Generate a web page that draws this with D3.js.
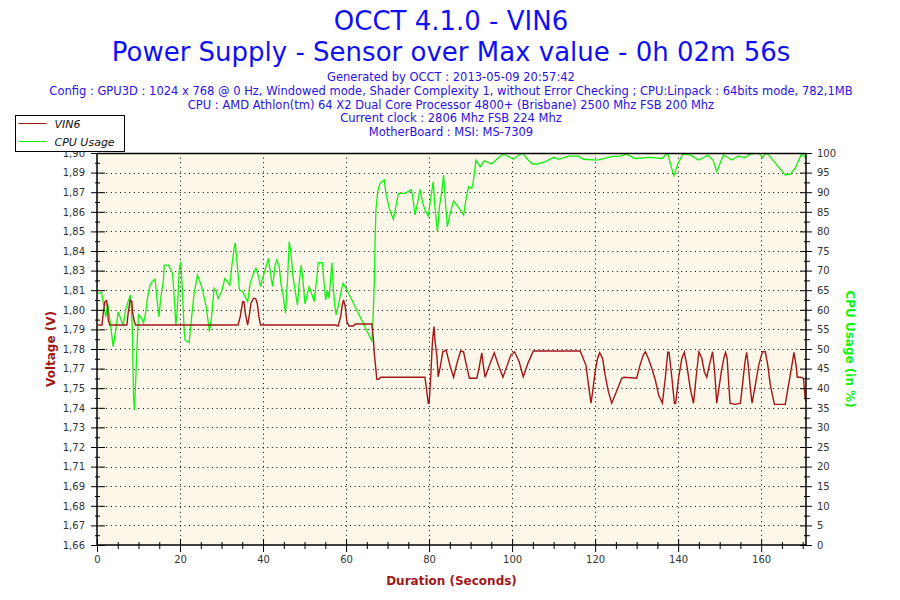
<!DOCTYPE html>
<html>
<head>
<meta charset="utf-8">
<script src="https://cdn.jsdelivr.net/npm/d3@7"></script>
<style>
  body { margin: 0; background: #fff; }
  svg { font-family: "DejaVu Sans", Verdana, sans-serif; }
</style>
</head>
<body>
<div id="chart"></div>
<script>
// titles
var titleLines = ["OCCT 4.1.0 - VIN6", "Power Supply - Sensor over Max value - 0h 02m 56s"];
var infoLines = [
  "Generated by OCCT : 2013-05-09 20:57:42",
  "Config : GPU3D : 1024 x 768 @ 0 Hz, Windowed mode, Shader Complexity 1, without Error Checking ; CPU:Linpack : 64bits mode, 782,1MB",
  "CPU : AMD Athlon(tm) 64 X2 Dual Core Processor 4800+ (Brisbane) 2500 Mhz FSB 200 Mhz",
  "Current clock : 2806 Mhz FSB 224 Mhz",
  "MotherBoard : MSI: MS-7309"
];

// axis labels
var voltLabels = ["1,66","1,67","1,68","1,69","1,71","1,72","1,73","1,74","1,75","1,77","1,78",
                  "1,79","1,80","1,81","1,83","1,84","1,85","1,86","1,87","1,89","1,90"];
var voltMin = 1.658, voltMax = 1.898;
var cpuTicks = [0,5,10,15,20,25,30,35,40,45,50,55,60,65,70,75,80,85,90,95,100];
var timeTicks = [0,20,40,60,80,100,120,140,160];

// VIN6 (seconds, volts)
var vinTime = [0.3,1.2,1.5,1.9,2.3,2.6,2.7,3.1,7.2,7.5,8.0,8.4,8.6,9.0,9.3,33.5,34.0,34.5,35.1,35.4,
  35.8,36.3,36.7,37.1,37.7,38.2,38.6,39.0,39.4,57.5,58.1,58.7,59.1,59.4,59.8,60.2,60.7,61.8,62.2,66.2,
  66.6,66.8,67.2,67.4,67.8,68.4,79.0,79.4,79.8,80.0,80.4,80.7,80.9,81.2,81.4,81.9,82.2,82.7,83.3,84.1,
  85.1,85.9,86.7,87.6,88.3,88.9,89.7,91.5,92.1,92.7,93.1,93.5,94.7,95.7,96.7,97.8,98.7,99.7,100.6,101.7,
  102.7,103.8,105.1,116.4,117.8,118.4,119.0,119.4,120.0,120.6,121.1,121.8,122.4,123.2,124.0,124.8,125.6,126.4,127.0,130.0,
  130.8,131.6,132.1,132.8,133.7,134.5,135.3,136.2,136.9,137.5,137.8,138.5,139.1,139.4,140.1,140.9,141.5,142.1,142.9,143.7,
  144.3,145.0,145.7,146.3,146.9,147.5,148.3,148.8,149.3,149.7,150.4,151.0,151.4,151.8,152.1,152.5,153.7,155.0,155.5,156.1,
  156.5,156.9,157.3,157.8,158.6,159.4,160.3,161.0,161.6,162.2,163.2,165.8,166.6,167.4,167.9,168.4,168.7,169.6,170.2,170.6,170.8];
var vinValue = [1.7927,1.7927,1.7999,1.8070,1.8076,1.8019,1.7958,1.7927,1.7927,1.7999,1.8080,1.8070,1.7999,1.7947,1.7927,1.7927,1.7927,1.7978,1.8070,1.8070,
  1.7988,1.7927,1.7988,1.8060,1.8090,1.8090,1.8060,1.7978,1.7927,1.7927,1.7921,1.7978,1.8050,1.8080,1.8039,1.7947,1.7921,1.7921,1.7933,1.7933,
  1.7835,1.7754,1.7651,1.7594,1.7594,1.7607,1.7607,1.7529,1.7448,1.7448,1.7610,1.7774,1.7855,1.7917,1.7835,1.7733,1.7610,1.7672,1.7763,1.7774,
  1.7672,1.7607,1.7692,1.7768,1.7763,1.7692,1.7601,1.7601,1.7672,1.7757,1.7672,1.7607,1.7692,1.7757,1.7680,1.7607,1.7672,1.7743,1.7763,1.7702,
  1.7610,1.7692,1.7768,1.7768,1.7680,1.7560,1.7448,1.7519,1.7641,1.7723,1.7757,1.7723,1.7621,1.7519,1.7448,1.7498,1.7549,1.7601,1.7607,1.7601,
  1.7680,1.7743,1.7763,1.7723,1.7658,1.7590,1.7498,1.7448,1.7601,1.7760,1.7760,1.7601,1.7448,1.7448,1.7601,1.7723,1.7760,1.7680,1.7540,1.7448,
  1.7601,1.7763,1.7723,1.7641,1.7607,1.7680,1.7763,1.7641,1.7448,1.7519,1.7641,1.7723,1.7760,1.7723,1.7601,1.7448,1.7441,1.7448,1.7560,1.7702,
  1.7760,1.7680,1.7560,1.7448,1.7560,1.7680,1.7763,1.7763,1.7680,1.7560,1.7441,1.7441,1.7560,1.7680,1.7760,1.7680,1.7607,1.7607,1.7600,1.7478,1.7460];

// CPU usage (seconds, %)
var cpuTime = [0.3,1.1,1.7,2.1,2.6,3.1,3.9,4.5,5.1,5.8,6.3,6.9,7.5,8.1,8.5,8.8,9.0,9.3,9.6,10.0,
  10.8,11.2,11.7,12.2,12.8,13.3,14.0,14.4,14.9,15.4,16.0,16.2,17.2,18.2,18.6,19.0,19.4,19.8,20.2,20.6,
  21.0,21.2,22.2,22.8,23.4,24.2,25.1,25.6,26.3,27.1,27.6,28.2,28.7,29.2,30.0,30.8,31.4,32.0,32.5,33.1,
  33.3,33.8,34.3,35.1,35.7,36.3,36.9,37.7,38.3,38.9,39.4,39.9,40.6,41.3,41.9,42.3,42.9,43.3,43.9,44.3,
  44.9,45.4,45.9,46.3,46.7,47.2,47.7,48.3,48.7,49.2,49.6,50.1,51.1,51.7,52.3,52.9,53.3,54.3,54.7,55.1,
  55.5,55.9,56.6,56.9,57.3,57.6,58.1,58.7,59.3,60.2,66.2,66.4,66.8,67.0,67.2,67.6,68.2,69.2,69.6,70.4,
  70.8,71.4,72.0,72.6,74.2,75.7,76.0,76.6,77.3,77.8,78.5,79.0,79.8,80.5,81.0,81.4,82.0,82.5,83.1,83.5,
  83.9,84.4,85.1,85.9,86.7,87.5,88.3,88.8,89.5,90.3,90.7,91.3,92.3,93.3,95.1,96.3,97.8,99.1,100.3,101.1,
  102.6,103.5,104.9,106.1,108.0,110.0,111.2,113.6,116.0,117.2,120.4,124.0,126.0,127.6,129.6,133.3,136.1,137.5,138.2,139.0,
  139.8,141.1,142.9,144.9,146.1,147.1,148.4,149.3,150.1,150.9,152.1,152.8,154.5,156.1,157.3,159.3,160.4,161.0,161.8,163.8,
  165.8,167.0,168.2,169.6,170.2,170.8];
var cpuValue = [64.2,64.4,60.8,58.2,61.6,57.4,50.6,54.8,59.5,57.4,56.1,59.9,62.1,63.8,55.7,37.8,34.4,41.2,49.7,58.7,
  57.8,56.7,59.1,63.3,66.3,67.2,67.8,63.3,58.2,63.3,67.6,71.4,71.4,69.3,63.3,56.1,60.8,70.2,72.3,64.2,
  54.8,52.3,51.6,58.2,64.2,68.9,66.3,64.2,60.8,54.4,58.2,65.5,64.6,62.9,64.6,68.0,67.2,66.3,71.4,76.1,
  77.1,71.4,65.1,64.6,63.3,62.1,66.8,69.3,70.6,68.5,65.9,68.0,70.6,73.1,68.5,65.9,71.4,72.7,71.0,66.8,
  63.3,59.1,67.6,77.4,74.8,68.5,65.1,61.2,66.8,71.4,67.6,61.5,65.9,64.2,62.1,67.6,72.0,72.0,66.8,62.5,
  65.1,62.9,72.0,65.9,60.8,58.7,60.8,64.2,66.8,65.1,52.1,54.8,66.8,78.2,85.5,90.1,92.3,93.1,89.7,85.9,
  84.6,83.1,86.3,89.7,89.7,90.6,89.3,84.2,87.6,90.7,87.2,85.5,83.9,89.3,92.7,86.3,79.9,86.3,90.6,94.4,
  88.0,81.2,84.6,87.8,86.7,85.5,84.2,87.6,91.4,91.0,93.1,98.2,96.5,98.0,97.2,98.4,99.7,99.1,98.4,99.1,
  100,98.6,97.2,97.2,97.8,98.9,98.4,99.2,99.2,98.4,98.2,99.1,99.2,99.7,98.6,98.9,98.6,100,96.9,94.2,
  96.9,99.7,99.5,98.2,98.8,99.5,98.2,95.2,97.4,99.5,98.8,98.2,99.2,98.8,99.7,100,98.8,100,99.5,96.9,
  94.4,94.6,96.1,99.5,99.5,98.6];

var W = 900, H = 600;
var margin = {top: 153, right: 94, bottom: 55, left: 97},
    width = W - margin.left - margin.right,
    height = H - margin.top - margin.bottom;

var vinColor = "#a11717", cpuColor = "#12f212";

var svg = d3.select("#chart")
  .append("svg")
    .attr("width", W)
    .attr("height", H);

// titles
svg.selectAll(".title")
  .data(titleLines)
  .enter()
  .append("text")
    .attr("x", 451)
    .attr("y", function(d, i) { return 30 + i * 31; })
    .attr("text-anchor", "middle")
    .style("font-size", "26px")
    .style("fill", "#1010f4")
    .text(function(d) { return d; });

svg.selectAll(".info")
  .data(infoLines)
  .enter()
  .append("text")
    .attr("x", 451)
    .attr("y", function(d, i) { return 81 + i * 13.8; })
    .attr("text-anchor", "middle")
    .style("font-size", "11.5px")
    .style("fill", "#2a10e6")
    .text(function(d) { return d; });

var g = svg.append("g")
    .attr("transform", "translate(" + margin.left + "," + margin.top + ")");

var x = d3.scaleLinear().domain([0, 170.8]).range([0, width]);
var yV = d3.scaleLinear().domain([voltMin, voltMax]).range([height, 0]);
var yC = d3.scaleLinear().domain([0, 100]).range([height, 0]);

g.append("rect")
    .attr("width", width)
    .attr("height", height)
    .style("fill", "#fdf7e9");

// dotted grid
var voltStep = (voltMax - voltMin) / (voltLabels.length - 1);
var voltTicks = voltLabels.map(function(d, i) { return voltMin + i * voltStep; });

g.selectAll(".hgrid")
  .data(cpuTicks.slice(1, -1))
  .enter()
  .append("line")
    .attr("x1", 0).attr("x2", width)
    .attr("y1", function(d) { return Math.round(yC(d)) + 0.5; })
    .attr("y2", function(d) { return Math.round(yC(d)) + 0.5; })
    .style("stroke", "#000")
    .style("stroke-dasharray", "1,3.6");

g.selectAll(".vgrid")
  .data(timeTicks.slice(1))
  .enter()
  .append("line")
    .attr("x1", function(d) { return Math.round(x(d)) + 0.5; })
    .attr("x2", function(d) { return Math.round(x(d)) + 0.5; })
    .attr("y1", 0).attr("y2", height)
    .style("stroke", "#000")
    .style("stroke-dasharray", "1,3.6");

// series
g.append("clipPath").attr("id", "clip")
  .append("rect").attr("width", width).attr("height", height + 1);

var cpuLine = d3.line()
    .x(function(d, i) { return x(cpuTime[i]); })
    .y(function(d) { return yC(d); });
var vinLine = d3.line()
    .x(function(d, i) { return x(vinTime[i]); })
    .y(function(d) { return yV(d); });

g.append("path")
    .attr("clip-path", "url(#clip)")
    .attr("d", cpuLine(cpuValue))
    .style("fill", "none")
    .style("stroke", cpuColor)
    .style("stroke-width", 1.3);

g.append("path")
    .attr("clip-path", "url(#clip)")
    .attr("d", vinLine(vinValue))
    .style("fill", "none")
    .style("stroke", vinColor)
    .style("stroke-width", 1.4);

// axes
function styleAxis(sel) {
  sel.select(".domain").remove();
  sel.selectAll(".tick line").style("stroke", "#000");
  sel.selectAll(".tick text")
    .style("font-family", "DejaVu Sans, Verdana, sans-serif")
    .style("font-size", "10px")
    .style("fill", "#333");
}

// left: minor ticks then major
g.append("g")
    .call(d3.axisLeft(yV)
      .tickValues(d3.range(voltLabels.length - 1).map(function(i) { return voltMin + (i + 0.5) * voltStep; }))
      .tickSize(3).tickFormat(""))
    .call(styleAxis)
    .selectAll(".tick line").attr("x2", -2).attr("x1", 3);

g.append("g")
    .call(d3.axisLeft(yV).tickValues(voltTicks).tickSize(6).tickPadding(6)
      .tickFormat(function(d, i) { return voltLabels[i]; }))
    .call(styleAxis)
    .selectAll(".tick line").attr("x1", 8);

g.append("g")
    .attr("transform", "translate(" + width + ",0)")
    .call(d3.axisRight(yC)
      .tickValues(d3.range(cpuTicks.length - 1).map(function(i) { return cpuTicks[i] + 2.5; }))
      .tickSize(4).tickFormat(""))
    .call(styleAxis)
    .selectAll(".tick line").attr("x1", -2);

g.append("g")
    .attr("transform", "translate(" + width + ",0)")
    .call(d3.axisRight(yC).tickValues(cpuTicks).tickSize(6).tickPadding(5))
    .call(styleAxis)
    .selectAll(".tick line").attr("x1", -6);

g.append("g")
    .attr("transform", "translate(0," + height + ")")
    .call(d3.axisBottom(x).tickValues(d3.range(5, 171, 5).filter(function(d) { return d % 20 !== 0; }))
      .tickSize(4).tickFormat(""))
    .call(styleAxis)
    .selectAll(".tick line").attr("y1", -3);

g.append("g")
    .attr("transform", "translate(0," + height + ")")
    .call(d3.axisBottom(x).tickValues(timeTicks).tickSize(7).tickPadding(4))
    .call(styleAxis)
    .selectAll(".tick line").attr("y1", -6);

// frame lines
g.append("line").attr("x1", 0).attr("x2", width).attr("y1", 0.5).attr("y2", 0.5)
  .style("stroke", "#000").style("stroke-width", 1.5);
g.append("line").attr("x1", 0).attr("x2", width).attr("y1", height).attr("y2", height)
  .style("stroke", "#000").style("stroke-width", 1.5);
g.append("line").attr("x1", 0).attr("x2", 0).attr("y1", 0).attr("y2", height)
  .style("stroke", "#000").style("stroke-width", 1.5);
g.append("line").attr("x1", width).attr("x2", width).attr("y1", 0).attr("y2", height)
  .style("stroke", "#000").style("stroke-width", 1.5);

// axis titles
svg.append("text")
    .attr("transform", "translate(55," + (margin.top + height / 2) + ") rotate(-90)")
    .attr("text-anchor", "middle")
    .style("font-size", "12px")
    .style("font-weight", "bold")
    .style("fill", vinColor)
    .text("Voltage (V)");

svg.append("text")
    .attr("transform", "translate(846," + (margin.top + height / 2) + ") rotate(90)")
    .attr("text-anchor", "middle")
    .style("font-size", "12px")
    .style("font-weight", "bold")
    .style("fill", cpuColor)
    .text("CPU Usage (in %)");

svg.append("text")
    .attr("x", margin.left + width / 2)
    .attr("y", 585)
    .attr("text-anchor", "middle")
    .style("font-size", "12px")
    .style("font-weight", "bold")
    .style("fill", vinColor)
    .text("Duration (Seconds)");

// legend
var legendItems = [{name: "VIN6", color: vinColor}, {name: "CPU Usage", color: cpuColor}];
var legend = svg.append("g").attr("transform", "translate(15.5,115.5)");
legend.append("rect")
    .attr("width", 109).attr("height", 36)
    .style("fill", "#fff").style("stroke", "#000");
var li = legend.selectAll(".li")
  .data(legendItems)
  .enter()
  .append("g")
    .attr("transform", function(d, i) { return "translate(0," + (8 + i * 18) + ")"; });
li.append("line")
    .attr("x1", 3).attr("x2", 31).attr("y1", 0).attr("y2", 0)
    .style("stroke", function(d) { return d.color; });
li.append("text")
    .attr("x", 39).attr("y", 4)
    .style("font-size", "11px")
    .style("font-style", "italic")
    .style("fill", "#111")
    .text(function(d) { return d.name; });
</script>
</body>
</html>
